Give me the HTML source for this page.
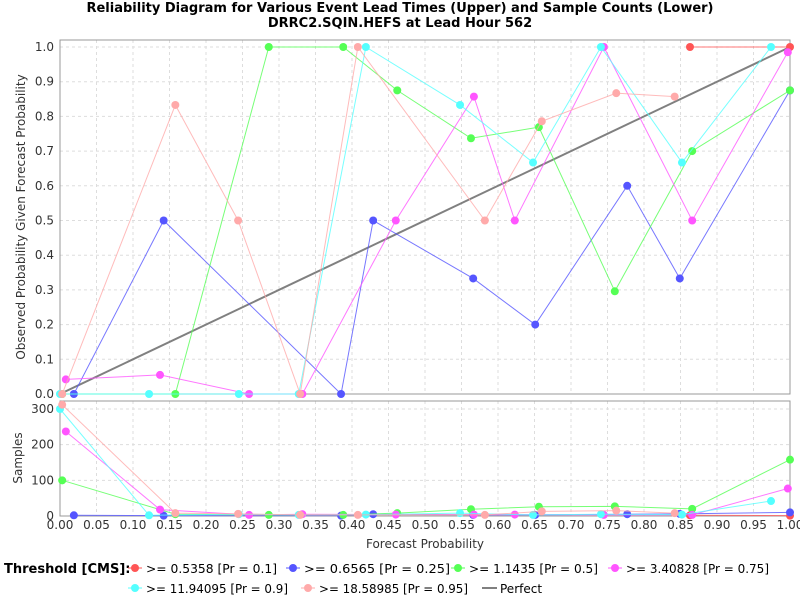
<!DOCTYPE html>
<html><head><meta charset="utf-8"><style>
body{margin:0;background:#fff;font-family:"Liberation Sans","DejaVu Sans",sans-serif}
svg text{font-family:"DejaVu Sans","Liberation Sans",sans-serif}
</style></head><body>
<svg id="c" width="800" height="600" xmlns="http://www.w3.org/2000/svg"></svg>
<script>
const seriesNames=[">= 0.5358 [Pr = 0.1]",">= 0.6565 [Pr = 0.25]",">= 1.1435 [Pr = 0.5]",">= 3.40828 [Pr = 0.75]",">= 11.94095 [Pr = 0.9]",">= 18.58985 [Pr = 0.95]"];
const seriesColors=["#ff5555","#5555ff","#55ff55","#ff55ff","#55ffff","#ffaaaa"];
const redX=[0.863,1.0], redY=[1.0,1.0], redN=[2,1];
const blueX=[0.019,0.142,0.385,0.429,0.566,0.651,0.777,0.849,1.0], blueY=[0,0.5,0,0.5,0.333,0.2,0.6,0.333,0.875], blueN=[2,1,1,5,3,3,5,6,10];
const greenX=[0.003,0.158,0.286,0.388,0.462,0.563,0.656,0.760,0.866,1.0], greenY=[0,0,1,1,0.875,0.737,0.769,0.296,0.7,0.875], greenN=[100,5,3,3,8,19,26,27,20,158];
const magX=[0.008,0.137,0.259,0.332,0.460,0.567,0.623,0.745,0.866,0.997], magY=[0.042,0.055,0,0,0.5,0.857,0.5,1,0.5,0.985], magN=[237,18,3,5,4,4,4,3,3,77];
const cyanX=[0.0,0.122,0.245,0.327,0.419,0.548,0.648,0.741,0.852,0.974], cyanY=[0,0,0,0,1,0.833,0.667,1,0.667,1], cyanN=[300,2,5,3,4,8,3,5,4,42];
const pinkX=[0.003,0.158,0.244,0.329,0.408,0.582,0.660,0.762,0.842], pinkY=[0,0.833,0.5,0,1,0.5,0.786,0.867,0.857], pinkN=[312,8,6,3,3,3,13,15,8];
const xTicks=[0,0.05,0.1,0.15,0.2,0.25,0.3,0.35,0.4,0.45,0.5,0.55,0.6,0.65,0.7,0.75,0.8,0.85,0.9,0.95,1.0];
const yTicks=[0,0.1,0.2,0.3,0.4,0.5,0.6,0.7,0.8,0.9,1.0];
const nTicks=[0,100,200,300];
const series=[[redX,redY,redN],[blueX,blueY,blueN],[greenX,greenY,greenN],[magX,magY,magN],[cyanX,cyanY,cyanN],[pinkX,pinkY,pinkN]];
const L=60,R=790,T1=40,B1=394,T2=401,B2=516;
const sx=v=>L+v*(R-L), sy=v=>394-v*347, sn=v=>516-v*(107/300);
const svg=document.getElementById('c'),NS='http://www.w3.org/2000/svg';
function mk(t,a,p){const e=document.createElementNS(NS,t);for(const k in a)e.setAttribute(k,a[k]);(p||svg).appendChild(e);return e;}
function tx(x,y,s,a){const e=mk('text',Object.assign({x:x,y:y,'font-size':12,fill:'#333'},a||{}));e.textContent=s;return e;}
let t=tx(400,12,'Reliability Diagram for Various Event Lead Times (Upper) and Sample Counts (Lower)',{'text-anchor':'middle','font-weight':'bold','font-size':13,fill:'#000'});


t=tx(400,27,'DRRC2.SQIN.HEFS at Lead Hour 562',{'text-anchor':'middle','font-weight':'bold','font-size':13,fill:'#000'});


for(const v of xTicks){const x=sx(v);
 mk('line',{x1:x,x2:x,y1:T1,y2:B1,stroke:'#ddd','stroke-dasharray':'3,3'});
 mk('line',{x1:x,x2:x,y1:T2,y2:B2,stroke:'#ddd','stroke-dasharray':'3,3'});
 const l=tx(x,529,v.toFixed(2),{'text-anchor':'middle'});
 
 }
for(const v of yTicks){const y=sy(v);
 mk('line',{x1:L,x2:R,y1:y,y2:y,stroke:'#ddd','stroke-dasharray':'3,3'});
 const l=tx(54,y+4,v.toFixed(1),{'text-anchor':'end'});
 
 }
for(const v of nTicks){const y=sn(v);
 mk('line',{x1:L,x2:R,y1:y,y2:y,stroke:'#ddd','stroke-dasharray':'3,3'});
 const l=tx(54,y+4,String(v),{'text-anchor':'end'});
 
 }
let p=mk('rect',{x:L,y:T1,width:R-L,height:B1-T1,fill:'none',stroke:'#999'});


p=mk('rect',{x:L,y:T2,width:R-L,height:B2-T2,fill:'none',stroke:'#999'});


t=tx(25,217,'Observed Probability Given Forecast Probability',{'text-anchor':'middle',transform:'rotate(-90 25 217)'});


t=tx(22,458,'Samples',{'text-anchor':'middle',transform:'rotate(-90 22 458)'});


t=tx(425,548,'Forecast Probability',{'text-anchor':'middle'});


const pf=mk('line',{x1:sx(0),y1:sy(0),x2:sx(1),y2:sy(1),stroke:'#808080','stroke-width':2});


series.forEach((s,i)=>{const [X,Y,N]=s,c=seriesColors[i];
 const g=mk('g',{});
 
 
 mk('polyline',{points:X.map((x,j)=>sx(x)+','+sy(Y[j])).join(' '),fill:'none',stroke:c,'stroke-width':1,opacity:0.8},g);
 mk('polyline',{points:X.map((x,j)=>sx(x)+','+sn(N[j])).join(' '),fill:'none',stroke:c,'stroke-width':1,opacity:0.8},g);
 X.forEach((x,j)=>{
  const d=mk('circle',{cx:sx(x),cy:sy(Y[j]),r:4,fill:c},g);
  
  
  const e=mk('circle',{cx:sx(x),cy:sn(N[j]),r:4,fill:c},g);
  
  });
});
t=tx(4,573,'Threshold [CMS]:',{'font-weight':'bold','font-size':13,fill:'#000'});


const legPos=[[135,568],[293,568],[458,568],[615,568],[135,588],[308,588]];
const legW=[131,146,129,143,142,149];
series.forEach((s,i)=>{const [x,y]=legPos[i];
 const g=mk('g',{});
 
 
 mk('line',{x1:x-7,x2:x+7,y1:y,y2:y,stroke:seriesColors[i]},g);
 mk('circle',{cx:x,cy:y,r:4,fill:seriesColors[i]},g);
 const l=mk('text',{x:x+11,y:y+5,'font-size':12,fill:'#000',textLength:legW[i],lengthAdjust:'spacingAndGlyphs'},g);l.textContent=seriesNames[i];});
const pg=mk('g',{});


mk('line',{x1:482,x2:497,y1:588,y2:588,stroke:'#808080','stroke-width':2},pg);
const pl=mk('text',{x:500,y:593,'font-size':12,fill:'#000'},pg);pl.textContent='Perfect';
</script>
</body></html>
